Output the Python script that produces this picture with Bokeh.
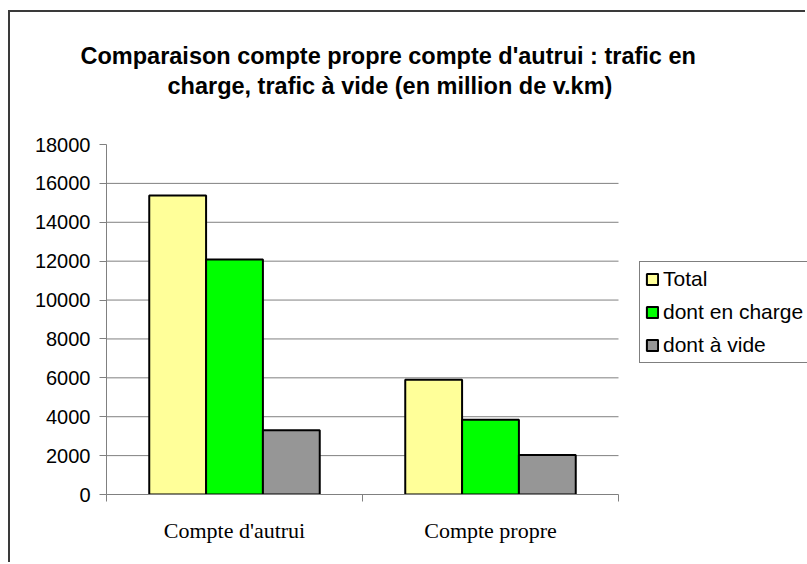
from bokeh.plotting import figure
from bokeh.models import (Range1d, FixedTicker, Legend, LegendItem, Title,
                          ColumnDataSource)
from bokeh.embed import file_html
from bokeh.resources import INLINE

# ---- data ----
categories = ["Compte d'autrui", "Compte propre"]
series_names = ["Total", "dont en charge", "dont à vide"]
total = [15380, 5900]
en_charge = [12080, 3850]
a_vide = [3300, 2030]
y_ticks = [0, 2000, 4000, 6000, 8000, 10000, 12000, 14000, 16000, 18000]
title_lines = ["Comparaison compte propre compte d'autrui : trafic en",
               "charge, trafic à vide (en million de v.km)"]

colors = ["#FFFF99", "#00FF00", "#969696"]
bar_w = 0.222
n_cat = len(categories)

# plot area: categories occupy 512 px, the frame runs on to the right edge
W, H = 797, 552
left_b, top_b, bottom_b = 96, 132, 70
cat_px = 512
x_end = n_cat * (W - left_b) / cat_px

p = figure(width=W, height=H, output_backend="svg", toolbar_location=None,
           x_range=Range1d(0, x_end), y_range=Range1d(0, y_ticks[-1]),
           min_border_left=left_b, min_border_right=0, min_border_top=top_b,
           min_border_bottom=bottom_b)
p.styles = {"border-left": "2px solid #3a3a3a", "border-top": "2px solid #3a3a3a",
            "margin-top": "10px", "margin-left": "8px"}
p.outline_line_color = None
p.background_fill_color = "white"
p.border_fill_color = "white"

# horizontal grid lines (only over the category area)
grid_y = y_ticks[1:-1]
p.segment(x0=[0] * len(grid_y), x1=[n_cat] * len(grid_y), y0=grid_y, y1=grid_y,
          line_color="#808080", line_width=1)

series = [total, en_charge, a_vide]
renderers = []
for j, vals in enumerate(series):
    xs = [i + 0.5 + (j - 1) * bar_w for i in range(n_cat)]
    src = ColumnDataSource(dict(x=xs, top=vals))
    r = p.vbar(x="x", top="top", bottom=0, width=bar_w, source=src,
               fill_color=colors[j], line_color="black", line_width=2)
    renderers.append(r)

# axes
p.xaxis.bounds = (0, n_cat)
p.xaxis.ticker = FixedTicker(ticks=[i + 0.5 for i in range(n_cat)],
                             minor_ticks=list(range(n_cat + 1)))
p.xaxis.major_label_overrides = {i + 0.5: c for i, c in enumerate(categories)}
p.xaxis.major_tick_out = 0
p.xaxis.major_tick_in = 0
p.xaxis.minor_tick_out = 7
p.xaxis.minor_tick_in = 0
p.xaxis.minor_tick_line_color = "#808080"
p.xaxis.axis_line_color = "#808080"
p.xaxis.major_label_text_font = "Liberation Serif"
p.xaxis.major_label_text_font_size = "22px"
p.xaxis.major_label_text_color = "black"
p.xaxis.major_label_standoff = 16

p.yaxis.ticker = FixedTicker(ticks=y_ticks)
p.yaxis.minor_tick_line_color = None
p.yaxis.major_tick_out = 7
p.yaxis.major_tick_in = 0
p.yaxis.major_tick_line_color = "#808080"
p.yaxis.axis_line_color = "#808080"
p.yaxis.major_label_text_font = "Liberation Sans"
p.yaxis.major_label_text_font_size = "20px"
p.yaxis.major_label_text_color = "black"
p.yaxis.major_label_standoff = 9
p.yaxis.formatter.use_scientific = False

p.xgrid.grid_line_color = None
p.ygrid.grid_line_color = None

# legend
legend = Legend(items=[LegendItem(label=n, renderers=[r]) for n, r in zip(series_names, renderers)],
                location=(533, 131), orientation="vertical",
                border_line_color="black", border_line_width=1,
                background_fill_color="white", background_fill_alpha=1,
                label_text_font="Liberation Sans", label_text_font_size="21px",
                label_text_color="black",
                glyph_width=14, glyph_height=14, label_standoff=4,
                padding=5, spacing=9, label_height=20, margin=0)
p.add_layout(legend, "center")

# title (two lines, stacked upward from the frame above a spacer)
p.title.visible = False
p.add_layout(Title(text=" ", text_font_size="1px", standoff=43), "above")
for line, off, sto in zip(reversed(title_lines), [61, -26], [0, 4]):
    t = Title(text=line, align="left", offset=off, text_font="Liberation Sans",
              text_font_style="bold", text_font_size="23.5px", text_color="black",
              standoff=sto)
    p.add_layout(t, "above")

open("out.html", "w").write(file_html(p, INLINE))
